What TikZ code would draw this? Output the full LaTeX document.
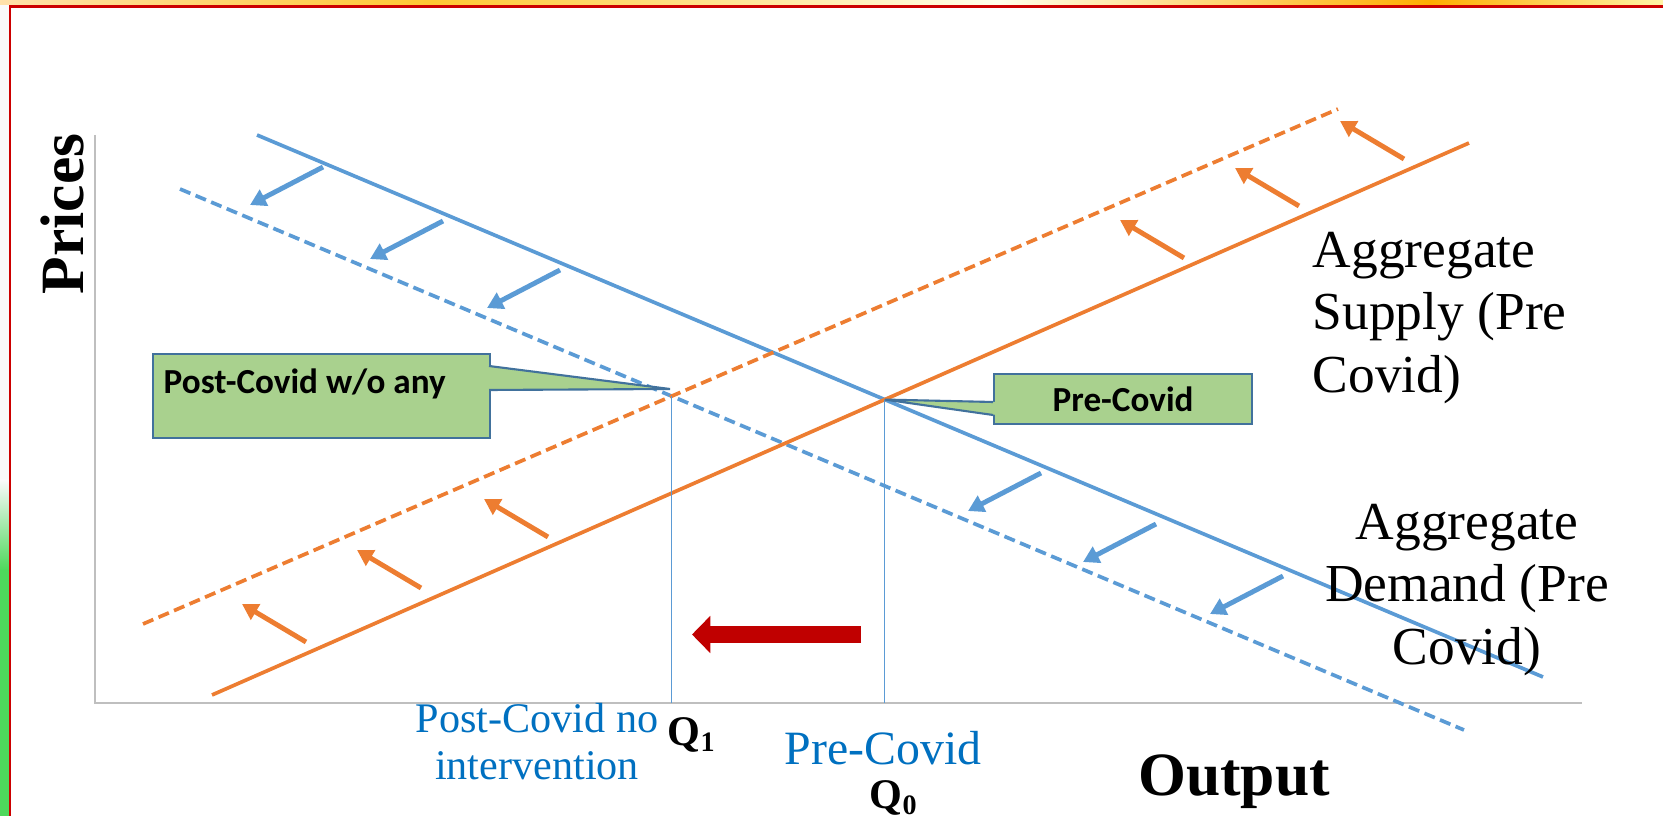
\documentclass[tikz,border=0pt]{standalone}
\usepackage{fontspec}
\setmainfont{Liberation Serif}
\newfontfamily\calfont{Carlito}
\usetikzlibrary{arrows.meta,positioning}
\definecolor{adblue}{RGB}{91,155,213}
\definecolor{asorange}{RGB}{237,125,49}
\definecolor{boxgreen}{RGB}{169,209,142}
\definecolor{boxline}{RGB}{65,113,156}
\definecolor{labblue}{RGB}{0,112,192}
\definecolor{darkred}{RGB}{192,0,0}
\definecolor{framered}{RGB}{204,0,0}
\definecolor{stripgreen}{RGB}{78,216,92}
\pgfdeclarehorizontalshading{topband}{100bp}{color(0bp)=(black!6); color(20bp)=(orange!15!white); color(38bp)=(orange!55!yellow!80!white); color(55bp)=(yellow!8!white); color(68bp)=(orange!65!yellow); color(76bp)=(yellow!25!white); color(88bp)=(orange!60!yellow); color(100bp)=(orange!70!yellow)}
\tikzstyle{curve}=[line width=1.05pt]
\tikzstyle{shifted}=[curve,dash pattern=on 3.2pt off 1.6pt]
\tikzstyle{adshift}=[adblue,line width=1.4pt,-{Triangle[length=4.5pt,width=5pt]}]
\tikzstyle{asshift}=[asorange,line width=1.4pt,-{Triangle[length=4.5pt,width=5pt]}]
\tikzstyle{callbox}=[draw=boxline,fill=boxgreen,line width=0.6pt,inner sep=0pt,font=\calfont\bfseries\fontsize{10}{12}\selectfont]
\tikzstyle{calltext}=[inner sep=0pt,font=\calfont\bfseries\fontsize{10}{12}\selectfont]
\tikzstyle{drop}=[adblue,line width=0.4pt]
\tikzstyle{axis}=[draw=black!25,line width=0.6pt]
\tikzstyle{curvelabel}=[inner sep=0pt,font=\fontsize{15.2}{17.9}\selectfont]
\tikzstyle{qlabel}=[inner sep=0pt,labblue]

\begin{document}
\begin{tikzpicture}[x=0.01cm,y=-0.01cm]
  \useasboundingbox (0,0) rectangle (1663,816);
  % slide frame
  \shade[shading=topband] (0,0) rectangle (1663,5);
  \fill[black!2] (0,5) rectangle (9.5,480);
  \shade[top color=black!2,bottom color=stripgreen] (0,480) rectangle (9.5,570);
  \fill[stripgreen] (0,570) rectangle (9.5,816);
  \draw[framered,line width=0.85pt] (1663,6.5) -- (10,6.5) -- (10,816);

  % axes
  \coordinate (origin) at (95,703);
  \coordinate (ytop) at (95,135);
  \coordinate (xend) at (1582,703);
  \draw[axis] (ytop) -- (origin) -- (xend);

  % demand and supply
  \coordinate (ad1) at (257,135);
  \coordinate (ad2) at (1543,677);
  \coordinate (adc1) at (180,189);
  \coordinate (adc2) at (1464,730);
  \coordinate (as1) at (212,695);
  \coordinate (as2) at (1469,143);
  \coordinate (asc1) at (143,624);
  \coordinate (asc2) at (1338,109);
  \draw[curve,adblue] (ad1) -- (ad2);
  \draw[shifted,adblue] (adc1) -- (adc2);
  \draw[curve,asorange] (as1) -- (as2);
  \draw[shifted,asorange] (asc1) -- (asc2);

  % equilibria
  \coordinate (eq0) at (intersection of ad1--ad2 and as1--as2);
  \coordinate (eq1) at (intersection of adc1--adc2 and asc1--asc2);
  \draw[drop] (eq0) -- (eq0 |- origin);
  \draw[drop] (eq1) -- (eq1 |- origin);

  % shifts
  \foreach \x/\y [count=\i] in {323/167,443/221,560/270,1041/473,1156/524,1283/576}{
    \coordinate (adt\i) at (\x,\y);
    \draw[adshift] (adt\i) -- ++(-73,38);
  }
  \foreach \x/\y [count=\i] in {306/642,421/588,548/537,1184/258,1299/206,1404/159}{
    \coordinate (ast\i) at (\x,\y);
    \draw[asshift] (ast\i) -- ++(-64,-38);
  }

  % output fall
  \coordinate (falltail) at (861,634.5);
  \coordinate (fallhead) at (692,634.5);
  \draw[darkred,line width=4.8pt,-{Triangle[length=5.2pt,width=10.3pt]}] (falltail) -- (fallhead);

  % callouts
  \node[callbox,minimum width=3.37cm,minimum height=0.84cm,anchor=north west] (postbox) at (152,353) {};
  \coordinate (posta) at (489,366);
  \coordinate (postb) at (489,390);
  \coordinate (posttip) at (670,389);
  \fill[boxgreen] ([xshift=-1pt]posta) -- (posttip) -- ([xshift=-1pt]postb) -- cycle;
  \draw[boxline,line width=0.6pt] (posta) -- (posttip) -- (postb);
  \node[calltext,anchor=west] (posttext) at (163,384) {Post-Covid w/o any};

  \node[callbox,minimum width=2.58cm,minimum height=0.5cm,anchor=north west] (prebox) at (993,373) {Pre-Covid};
  \coordinate (prea) at (993,402);
  \coordinate (preb) at (993,415);
  \fill[boxgreen] ([xshift=1pt]prea) -- (eq0) -- ([xshift=1pt]preb) -- cycle;
  \draw[boxline,line width=0.6pt] (prea) -- (eq0) -- (preb);

  % labels
  \node[rotate=90,inner sep=0pt,font=\bfseries\fontsize{17.5}{20}\selectfont] (prices) at (62,214) {Prices};
  \node[inner sep=0pt,font=\bfseries\fontsize{17.5}{20}\selectfont] (output) at (1234,782) {Output};
  \node[curvelabel,align=left,anchor=west] (aslabel) at (1312,318) {Aggregate\\Supply (Pre\\Covid)};
  \node[curvelabel,align=center] (adlabel) at (1467,590) {Aggregate\\Demand (Pre\\Covid)};
  \node[qlabel,align=center,font=\fontsize{12}{13.4}\selectfont] (q1text) at (537,742) {Post-Covid no\\intervention};
  \node[qlabel,font=\fontsize{13.6}{15}\selectfont] (q0text) at (883,748) {Pre-Covid};
  \node[inner sep=0pt,font=\bfseries\fontsize{12}{14}\selectfont] (q1) at (692,735) {Q\textsubscript{1}};
  \node[inner sep=0pt,font=\bfseries\fontsize{12}{14}\selectfont] (q0) at (894,798) {Q\textsubscript{0}};
\end{tikzpicture}
\end{document}
